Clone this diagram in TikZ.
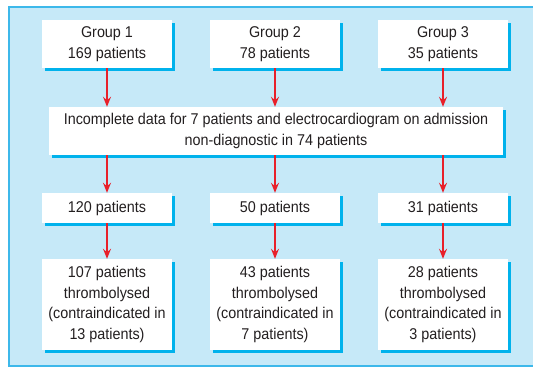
\documentclass[tikz,border=0pt]{standalone}
\usepackage{fontspec}
\setmainfont[FakeStretch=0.92]{Liberation Sans}
\usetikzlibrary{arrows.meta,shadows}
\definecolor{panelfill}{HTML}{C6E9F8}
\definecolor{panelline}{HTML}{3DB8EA}
\definecolor{shadowc}{HTML}{00B2EC}
\definecolor{arrowred}{HTML}{E8202A}
\definecolor{txt}{HTML}{231F20}
\begin{document}
\begin{tikzpicture}[x=1pt,y=-1pt,
  box/.style={fill=white, draw=none, text=txt, align=center, inner sep=0pt,
    font=\fontsize{15.6}{20.8}\selectfont,
    drop shadow={shadow xshift=3pt, shadow yshift=-3pt, fill=shadowc, opacity=1}},
  gbox/.style={box, minimum width=130pt, minimum height=48pt},
  rbox/.style={box, minimum width=130pt, minimum height=30pt},
  fbox/.style={box, minimum width=130pt, minimum height=91pt},
  flow/.style={draw=arrowred, line width=1.5pt, -{Stealth[length=10pt,width=8pt,inset=3.5pt]}}]
\useasboundingbox (0,0) rectangle (533,369);
\fill[panelfill] (9,7) rectangle (540,366);
\draw[panelline, line width=1.2pt] (540,7) -- (9,7) -- (9,366) -- (540,366);

\node[gbox] (g1) at (107,44) {Group 1\\169 patients};
\node[gbox] (g2) at (275,44) {Group 2\\78 patients};
\node[gbox] (g3) at (443,44) {Group 3\\35 patients};

\node[box, minimum width=454pt, minimum height=48pt] (mid) at (276,131)
  {Incomplete data for 7 patients and electrocardiogram on admission\\non-diagnostic in 74 patients};

\node[rbox] (r1) at (107,208) {120 patients};
\node[rbox] (r2) at (275,208) {50 patients};
\node[rbox] (r3) at (443,208) {31 patients};

\node[fbox] (f1) at (107,304.5) {107 patients\\thrombolysed\\(contraindicated in\\13 patients)};
\node[fbox] (f2) at (275,304.5) {43 patients\\thrombolysed\\(contraindicated in\\7 patients)};
\node[fbox] (f3) at (443,304.5) {28 patients\\thrombolysed\\(contraindicated in\\3 patients)};

\draw[flow] (g1.south) -- (g1.south |- mid.north);
\draw[flow] (g2.south) -- (g2.south |- mid.north);
\draw[flow] (g3.south) -- (g3.south |- mid.north);
\draw[flow] (r1.north |- mid.south) -- (r1.north);
\draw[flow] (r2.north |- mid.south) -- (r2.north);
\draw[flow] (r3.north |- mid.south) -- (r3.north);
\draw[flow] (r1.south) -- (f1.north);
\draw[flow] (r2.south) -- (f2.north);
\draw[flow] (r3.south) -- (f3.north);
\end{tikzpicture}
\end{document}
